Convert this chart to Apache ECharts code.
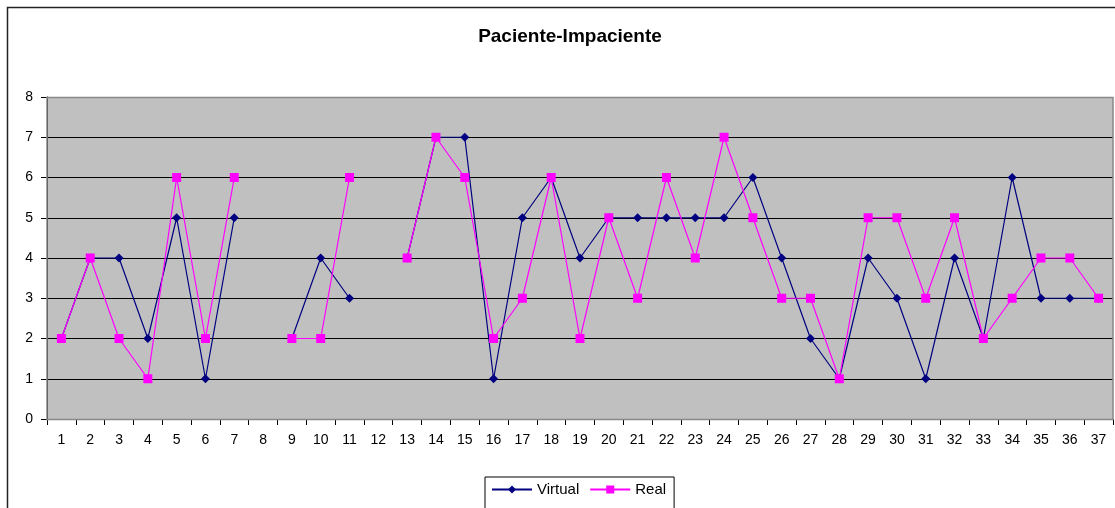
<!DOCTYPE html>
<html>
<head>
<meta charset="utf-8">
<script src="https://cdn.jsdelivr.net/npm/echarts@6/dist/echarts.min.js"></script>
<style>html,body{margin:0;padding:0;background:#fff}#c{width:1115px;height:508px}</style>
</head>
<body>
<div id="c"></div>
<script>
const categories = ['1','2','3','4','5','6','7','8','9','10','11','12','13','14','15','16','17','18','19','20','21','22','23','24','25','26','27','28','29','30','31','32','33','34','35','36','37'];
const virtualValues = [2,4,4,2,5,1,5,null,2,4,3,null,4,7,7,1,5,6,4,5,5,5,5,5,6,4,2,1,4,3,1,4,2,6,3,3,3];
const realValues = [2,4,2,1,6,2,6,null,2,2,6,null,4,7,6,2,3,6,2,5,3,6,4,7,5,3,3,1,5,5,3,5,2,3,4,4,3];
const yTicks = [0,1,2,3,4,5,6,7,8];

const chart = echarts.init(document.getElementById('c'));
const font = '"Liberation Sans", Arial, sans-serif';
chart.setOption({
  animation: false,
  backgroundColor: '#fff',
  title: {
    text: 'Paciente-Impaciente',
    left: 565, top: 22, textAlign: 'center',
    textStyle: { fontFamily: font, fontSize: 19, fontWeight: 'bold', color: '#000' }
  },
  graphic: [
    { type: 'rect', shape: { x: 7.5, y: 7.5, width: 1130, height: 530 },
      style: { fill: 'none', stroke: '#222', lineWidth: 1.5 }, z: -10 },
    { type: 'rect', shape: { x: 47, y: 97.5, width: 1066, height: 322 },
      style: { fill: 'none', stroke: '#888', lineWidth: 1.5 }, z: 10 }
  ],
  legend: {
    data: ['Virtual', 'Real'],
    left: 485, top: 477,
    padding: [5, 8, 12, 6],
    itemGap: 10,
    itemWidth: 40, itemHeight: 10,
    borderColor: '#000', borderWidth: 1,
    textStyle: { fontFamily: font, fontSize: 15, color: '#000' }
  },
  grid: { left: 47, top: 97, right: 2, bottom: 89, backgroundColor: '#c0c0c0', show: true, borderWidth: 0 },
  xAxis: {
    type: 'category', data: categories, boundaryGap: true,
    axisLine: { lineStyle: { color: '#000', width: 1 } },
    axisTick: { show: true, length: 6, alignWithLabel: false, lineStyle: { color: '#000' } },
    axisLabel: { margin: 14, fontFamily: font, fontSize: 14, color: '#000', interval: 0 }
  },
  yAxis: {
    type: 'value', min: yTicks[0], max: yTicks[yTicks.length - 1], interval: 1,
    axisLine: { show: true, lineStyle: { color: '#000', width: 1 } },
    axisTick: { show: true, length: 6, lineStyle: { color: '#000' } },
    axisLabel: { margin: 14, fontFamily: font, fontSize: 14, color: '#000' },
    splitLine: { show: true, lineStyle: { color: '#000', width: 1.2 } }
  },
  series: [
    { name: 'Virtual', type: 'line', data: virtualValues, connectNulls: false,
      symbol: 'diamond', symbolSize: 9, showAllSymbol: true,
      itemStyle: { color: '#000080' }, lineStyle: { color: '#000080', width: 1.2 } },
    { name: 'Real', type: 'line', data: realValues, connectNulls: false,
      symbol: 'rect', symbolSize: 9, showAllSymbol: true,
      itemStyle: { color: '#ff00ff' }, lineStyle: { color: '#ff00ff', width: 1.2 } }
  ]
});
</script>
</body>
</html>
